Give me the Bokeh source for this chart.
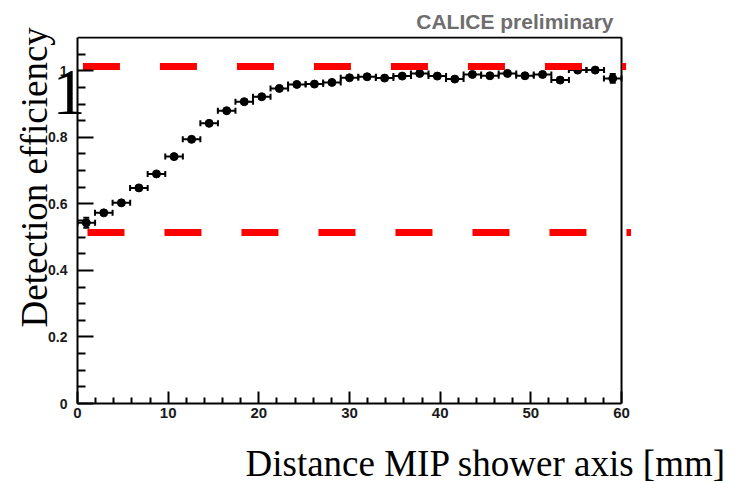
import math
from bokeh.plotting import figure
from bokeh.models import Range1d, FixedTicker, ColumnDataSource, Title, LinearAxis
from bokeh.embed import file_html
from bokeh.resources import INLINE

# ---- data ----
X = [0.97, 2.90, 4.84, 6.77, 8.71, 10.65, 12.58, 14.52, 16.45, 18.39, 20.32,
     22.26, 24.19, 26.13, 28.06, 30.00, 31.94, 33.87, 35.81, 37.74, 39.68,
     41.61, 43.55, 45.48, 47.42, 49.35, 51.29, 53.23, 55.16, 57.10, 59.03]
Y = [0.543, 0.573, 0.603, 0.648, 0.690, 0.742, 0.794, 0.842, 0.880, 0.907,
     0.922, 0.947, 0.959, 0.960, 0.965, 0.979, 0.982, 0.978, 0.984, 0.992,
     0.984, 0.975, 0.989, 0.985, 0.992, 0.985, 0.989, 0.972, 1.002, 1.002,
     0.977]
YERR = [0.015, 0.004, 0.004, 0.004, 0.004, 0.004, 0.004, 0.004, 0.004, 0.004,
        0.004, 0.004, 0.004, 0.004, 0.004, 0.004, 0.004, 0.004, 0.004, 0.004,
        0.004, 0.004, 0.004, 0.004, 0.004, 0.004, 0.004, 0.004, 0.004, 0.004,
        0.013]
X_HALF_BIN = 0.97

UPPER_LEVEL = 1.013
UPPER_SPAN = [0.6, 60.5]
LOWER_LEVEL = 0.514
LOWER_SPAN = [1.1, 61.05]

X_MAJOR = [0, 10, 20, 30, 40, 50, 60]
X_MINOR = [2, 4, 6, 8, 12, 14, 16, 18, 22, 24, 26, 28, 32, 34, 36, 38,
           42, 44, 46, 48, 52, 54, 56, 58]
Y_MAJOR = [0, 0.2, 0.4, 0.6, 0.8, 1.0]
Y_MAJOR_LABELS = ["0", "0.2", "0.4", "0.6", "0.8", "1"]
Y_MINOR = [0.05, 0.1, 0.15, 0.25, 0.3, 0.35, 0.45, 0.5, 0.55, 0.65, 0.7,
           0.75, 0.85, 0.9, 0.95, 1.05]
BIG_ONE_TICK = [1.0]
BIG_ONE_LABEL = ["1"]

X_MAX = 60
Y_MAX = 1.1

TITLE = "CALICE preliminary"
YLABEL = "Detection efficiency"
XLABEL = "Distance MIP shower axis [mm]"

# ---- figure ----
p = figure(frame_width=554, frame_height=367,
           min_border_left=77, min_border_right=109,
           min_border_top=36, min_border_bottom=79,
           x_range=Range1d(0, 61.1), y_range=Range1d(0, 1.103),
           output_backend="svg", toolbar_location=None)
p.outline_line_color = None
p.xgrid.visible = False
p.ygrid.visible = False
p.background_fill_color = "white"
p.border_fill_color = "white"

for ax in (p.xaxis[0], p.yaxis[0]):
    ax.axis_line_width = 2
    ax.axis_line_color = "black"
    ax.major_tick_line_width = 2
    ax.minor_tick_line_width = 2
    ax.major_tick_out = 0
    ax.minor_tick_out = 0
    ax.major_label_text_font = "Liberation Sans"
    ax.major_label_text_font_style = "bold"
    ax.major_label_text_color = "#1a1a1a"

p.xaxis.ticker = FixedTicker(ticks=X_MAJOR, minor_ticks=X_MINOR)
p.xaxis.bounds = (0, X_MAX)
p.xaxis.major_tick_in = 12
p.xaxis.minor_tick_in = 6
p.xaxis.major_label_text_font_size = "15px"
p.xaxis.major_label_standoff = 4
# invisible spacer label: pushes the big x title down
p.xaxis.axis_label = " "
p.xaxis.axis_label_text_font_size = "1px"
p.xaxis.axis_label_standoff = 16

p.yaxis.ticker = FixedTicker(ticks=Y_MAJOR, minor_ticks=Y_MINOR)
p.yaxis.bounds = (0, Y_MAX)
p.yaxis.major_tick_in = 16
p.yaxis.minor_tick_in = 8
p.yaxis.major_label_text_font_size = "14px"
p.yaxis.major_label_standoff = 10
p.yaxis.major_label_overrides = {v: s for v, s in zip(Y_MAJOR, Y_MAJOR_LABELS)}

# large overlaid "1" next to the y axis, drawn as an extra axis label
p.extra_y_ranges = {"big1": Range1d(0.066, 1.169)}
big = LinearAxis(y_range_name="big1", ticker=FixedTicker(ticks=BIG_ONE_TICK, minor_ticks=[]),
                 major_label_overrides={v: s for v, s in zip(BIG_ONE_TICK, BIG_ONE_LABEL)},
                 axis_line_color=None, major_tick_line_color=None, minor_tick_line_color=None,
                 major_tick_in=0, major_tick_out=0, minor_tick_in=0, minor_tick_out=0,
                 major_label_standoff=-40,
                 major_label_text_font="Liberation Serif", major_label_text_font_size="66px",
                 major_label_text_font_style="normal", major_label_text_color="black")
p.add_layout(big, "left")

# frame top / right borders
p.line([0, X_MAX], [Y_MAX, Y_MAX], line_color="black", line_width=2)
p.line([X_MAX, X_MAX], [0, Y_MAX], line_color="black", line_width=2)

# data with error bars
src = ColumnDataSource(dict(
    x=X, y=Y,
    xl=[x - X_HALF_BIN for x in X], xr=[x + X_HALF_BIN for x in X],
    yl=[y - e for y, e in zip(Y, YERR)], yh=[y + e for y, e in zip(Y, YERR)],
))
p.segment(x0="xl", y0="y", x1="xr", y1="y", source=src, line_color="black", line_width=2)
p.segment(x0="x", y0="yl", x1="x", y1="yh", source=src, line_color="black", line_width=2)
p.scatter(x="xl", y="y", source=src, marker="dash", angle=math.pi / 2, size=6,
          line_color="black", line_width=2)
p.scatter(x="xr", y="y", source=src, marker="dash", angle=math.pi / 2, size=6,
          line_color="black", line_width=2)
p.scatter(x="x", y="yl", source=src, marker="dash", size=6, line_color="black", line_width=2)
p.scatter(x="x", y="yh", source=src, marker="dash", size=6, line_color="black", line_width=2)
p.scatter(x="x", y="y", source=src, marker="circle", size=8,
          fill_color="black", line_color="black")

# red dashed lines
p.line(UPPER_SPAN, [UPPER_LEVEL, UPPER_LEVEL], line_color="#ff0000", line_width=7,
       line_dash="37 40", line_cap="butt")
p.line(LOWER_SPAN, [LOWER_LEVEL, LOWER_LEVEL], line_color="#ff0000", line_width=7,
       line_dash="37 40", line_cap="butt")

# texts
p.title.text = TITLE
p.title.align = "right"
p.title.offset = 18
p.title.standoff = 7
p.title.text_font = "Liberation Sans"
p.title.text_font_style = "bold"
p.title.text_font_size = "21px"
p.title.text_color = "#6e6e6e"

p.add_layout(Title(text=YLABEL, align="left", offset=76, standoff=-18,
                   text_font="Liberation Serif", text_font_style="normal",
                   text_font_size="37px", text_color="black"), "left")
p.add_layout(Title(text=XLABEL, align="left", offset=168, standoff=0,
                   text_font="Liberation Serif", text_font_style="normal",
                   text_font_size="37px", text_color="black"), "below")

open("out.html", "w").write(file_html(p, INLINE))
